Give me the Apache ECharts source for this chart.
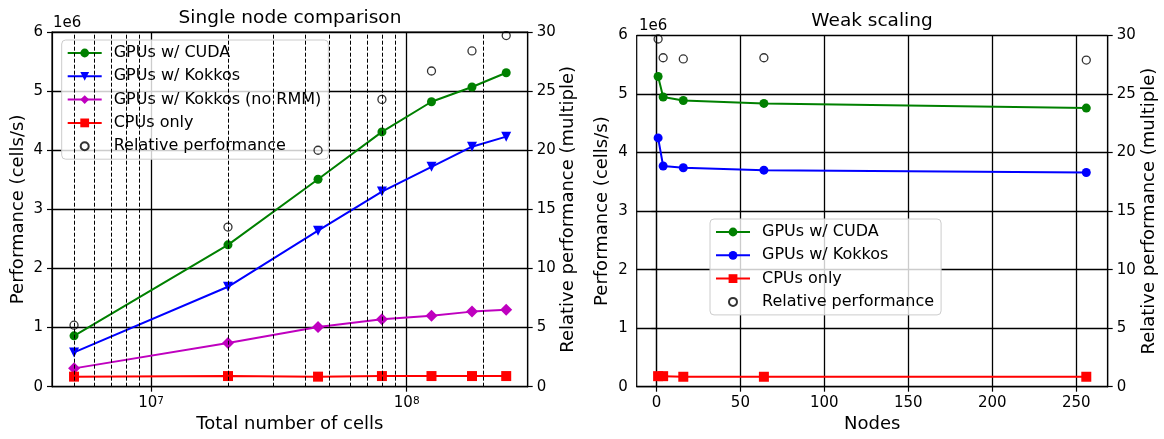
<!DOCTYPE html>
<html><head><meta charset="utf-8">
<script src="https://cdn.jsdelivr.net/npm/echarts@6/dist/echarts.min.js"></script>
<style>html,body{margin:0;padding:0;background:#fff}#c{width:1164px;height:439px}</style>
</head><body><div id="c"></div>
<script>
// ---- Left chart: single node comparison ----
const cellCounts = [5e6, 2e7, 4.5e7, 8e7, 1.25e8, 1.8e8, 2.45e8];
const singleCuda = [0.86, 2.40, 3.51, 4.31, 4.82, 5.07, 5.31];
const singleKokkos = [0.58, 1.69, 2.64, 3.30, 3.72, 4.06, 4.23];
const singleKokkosNoRmm = [0.31, 0.74, 1.01, 1.14, 1.20, 1.27, 1.30];
const singleCpu = [0.17, 0.18, 0.17, 0.18, 0.18, 0.18, 0.18];
const singleRelative = [5.2, 13.5, 20.0, 24.3, 26.7, 28.4, 29.7];
const logMajorTicks = [1e7, 1e8];
const logMinorGrid = [5e6, 6e6, 7e6, 8e6, 9e6, 2e7, 3e7, 4e7, 5e7, 6e7, 7e7, 8e7, 9e7, 2e8];

// ---- Right chart: weak scaling ----
const nodes = [1, 4, 16, 64, 256];
const weakCuda = [5.30, 4.95, 4.89, 4.84, 4.76];
const weakKokkos = [4.25, 3.77, 3.74, 3.70, 3.66];
const weakCpu = [0.18, 0.18, 0.17, 0.17, 0.17];
const weakRelative = [29.7, 28.1, 28.0, 28.1, 27.9];
const nodeTicks = [0, 50, 100, 150, 200, 250];

const perfTicks = [0, 1, 2, 3, 4, 5, 6];
const relTicks = [0, 5, 10, 15, 20, 25, 30];

const FONT = 'DejaVu Sans';
const BLACK = '#000';
const OPEN_CIRCLE_ICON = 'path://M0,0M22,22M11,3A8,8,0,1,1,10.99,3Z';
const zip = (xs, ys) => xs.map((x, i) => [x, ys[i]]);

function lineSeries(name, xs, ys, color, symbol, size, gi, extra) {
  return Object.assign({
    type: 'line', name: name, data: zip(xs, ys),
    xAxisIndex: gi, yAxisIndex: gi * 2,
    symbol: symbol, symbolSize: size, showSymbol: true,
    lineStyle: { color: color, width: 2 },
    itemStyle: { color: color },
    emphasis: { disabled: true }, z: 3
  }, extra || {});
}
function relSeries(name, xs, ys, gi) {
  return {
    type: 'scatter', name: name, data: zip(xs, ys),
    xAxisIndex: gi, yAxisIndex: gi * 2 + 1,
    symbol: 'circle', symbolSize: 8,
    itemStyle: { color: 'rgba(0,0,0,0)', borderColor: BLACK, borderWidth: 1.3 },
    emphasis: { disabled: true }, z: 4
  };
}
const axisCommon = {
  axisLine: { show: true, lineStyle: { color: BLACK, width: 1.2 } },
  axisTick: { show: true, length: 5, lineStyle: { color: BLACK, width: 1.2 } },
  axisLabel: { color: BLACK, fontSize: 15, fontFamily: FONT },
  nameTextStyle: { color: BLACK, fontSize: 18, fontFamily: FONT }
};
function yAxes(gi, leftGap, rightGap) {
  return [
    Object.assign({}, axisCommon, {
      type: 'value', gridIndex: gi, position: 'left', min: 0, max: 6, interval: 1,
      name: 'Performance (cells/s)', nameLocation: 'middle', nameRotate: 90, nameGap: leftGap,
      axisLabel: Object.assign({}, axisCommon.axisLabel, { margin: 9, customValues: perfTicks }),
      axisTick: Object.assign({}, axisCommon.axisTick, { customValues: perfTicks }),
      splitLine: { show: true, lineStyle: { color: BLACK, width: 1.3 } }
    }),
    Object.assign({}, axisCommon, {
      type: 'value', gridIndex: gi, position: 'right', min: 0, max: 30, interval: 5,
      name: 'Relative performance (multiple)', nameLocation: 'middle', nameRotate: 90, nameGap: rightGap,
      axisLabel: Object.assign({}, axisCommon.axisLabel, { margin: 9, customValues: relTicks }),
      axisTick: Object.assign({}, axisCommon.axisTick, { customValues: relTicks }),
      splitLine: { show: false }
    })
  ];
}
const legendCommon = {
  orient: 'vertical', itemWidth: 34, itemHeight: 11, itemGap: 7.3,
  padding: [5, 7, 5, 5],
  backgroundColor: 'rgba(255,255,255,0.8)', borderColor: '#cccccc', borderWidth: 1, borderRadius: 4,
  textStyle: { color: BLACK, fontSize: 16, fontFamily: FONT, padding: [0, 0, 0, 7] },
  selectedMode: false
};

const option = {
  animation: false,
  backgroundColor: '#fff',
  textStyle: { fontFamily: FONT },
  grid: [
    { left: 52, top: 32, width: 475.7, height: 354.7, show: true, borderColor: BLACK, borderWidth: 1.2, backgroundColor: 'transparent', containLabel: false },
    { left: 636.7, top: 35.5, width: 471, height: 351.2, show: true, borderColor: BLACK, borderWidth: 1.2, backgroundColor: 'transparent', containLabel: false }
  ],
  xAxis: [
    Object.assign({}, axisCommon, {
      type: 'log', logBase: 10, gridIndex: 0, min: 4.10e6, max: 2.973e8,
      name: 'Total number of cells', nameLocation: 'middle', nameGap: 29,
      axisTick: Object.assign({}, axisCommon.axisTick, { customValues: logMajorTicks }),
      axisLabel: {
        margin: 9, customValues: logMajorTicks, color: BLACK,
        formatter: function (v) { return '{b|10}{e|' + Math.round(Math.log10(v)) + '}'; },
        rich: {
          b: { fontSize: 15, fontFamily: FONT, color: BLACK },
          e: { fontSize: 10.5, fontFamily: FONT, color: BLACK, verticalAlign: 'top' }
        }
      },
      splitLine: { show: true, lineStyle: { color: BLACK, width: 1.3 } }
    }),
    Object.assign({}, axisCommon, {
      type: 'value', gridIndex: 1, min: -11.75, max: 268.75,
      name: 'Nodes', nameLocation: 'middle', nameGap: 29,
      axisTick: Object.assign({}, axisCommon.axisTick, { customValues: nodeTicks }),
      axisLabel: Object.assign({}, axisCommon.axisLabel, { margin: 9, customValues: nodeTicks }),
      splitLine: { show: true, lineStyle: { color: BLACK, width: 1.3 } }
    })
  ],
  yAxis: yAxes(0, 25, 31).concat(yAxes(1, 25, 33)),
  legend: [
    Object.assign({}, legendCommon, {
      left: 61.7, top: 40,
      data: ['GPUs w/ CUDA', 'GPUs w/ Kokkos', 'GPUs w/ Kokkos (no RMM)', 'CPUs only',
        { name: 'Relative performance', icon: OPEN_CIRCLE_ICON }]
    }),
    Object.assign({}, legendCommon, {
      left: 710, top: 219,
      data: ['GPUs w/ CUDA ', 'GPUs w/ Kokkos ', 'CPUs only ',
        { name: 'Relative performance ', icon: OPEN_CIRCLE_ICON }],
      formatter: function (n) { return n.trim(); }
    })
  ],
  series: [
    {
      type: 'line', name: 'minor-grid', data: [], xAxisIndex: 0, yAxisIndex: 0, z: 1, silent: true,
      markLine: {
        silent: true, symbol: ['none', 'none'], label: { show: false }, emphasis: { disabled: true },
        lineStyle: { color: BLACK, width: 1, type: [4, 2] },
        data: logMinorGrid.map(v => ({ xAxis: v }))
      }
    },
    lineSeries('GPUs w/ CUDA', cellCounts, singleCuda, '#008000', 'circle', 9, 0),
    lineSeries('GPUs w/ Kokkos', cellCounts, singleKokkos, '#0000ff', 'triangle', 10, 0, { symbolRotate: 180 }),
    lineSeries('GPUs w/ Kokkos (no RMM)', cellCounts, singleKokkosNoRmm, '#bf00bf', 'diamond', 12, 0),
    lineSeries('CPUs only', cellCounts, singleCpu, '#ff0000', 'rect', 10, 0),
    relSeries('Relative performance', cellCounts, singleRelative, 0),

    lineSeries('GPUs w/ CUDA ', nodes, weakCuda, '#008000', 'circle', 9, 1),
    lineSeries('GPUs w/ Kokkos ', nodes, weakKokkos, '#0000ff', 'circle', 9, 1),
    lineSeries('CPUs only ', nodes, weakCpu, '#ff0000', 'rect', 10, 1),
    relSeries('Relative performance ', nodes, weakRelative, 1)
  ],
  graphic: [
    { type: 'text', x: 290, y: 18, style: { text: 'Single node comparison', fontSize: 18.5, fontFamily: FONT, fill: BLACK, align: 'center', verticalAlign: 'middle' } },
    { type: 'text', x: 872, y: 21, style: { text: 'Weak scaling', fontSize: 18.5, fontFamily: FONT, fill: BLACK, align: 'center', verticalAlign: 'middle' } },
    { type: 'text', x: 53, y: 23, style: { text: '1e6', fontSize: 15, fontFamily: FONT, fill: BLACK, align: 'left', verticalAlign: 'middle' } },
    { type: 'text', x: 639, y: 26.5, style: { text: '1e6', fontSize: 15, fontFamily: FONT, fill: BLACK, align: 'left', verticalAlign: 'middle' } }
  ]
};
const chart = echarts.init(document.getElementById('c'), null, { renderer: 'canvas' });
chart.setOption(option);
</script>
</body></html>
